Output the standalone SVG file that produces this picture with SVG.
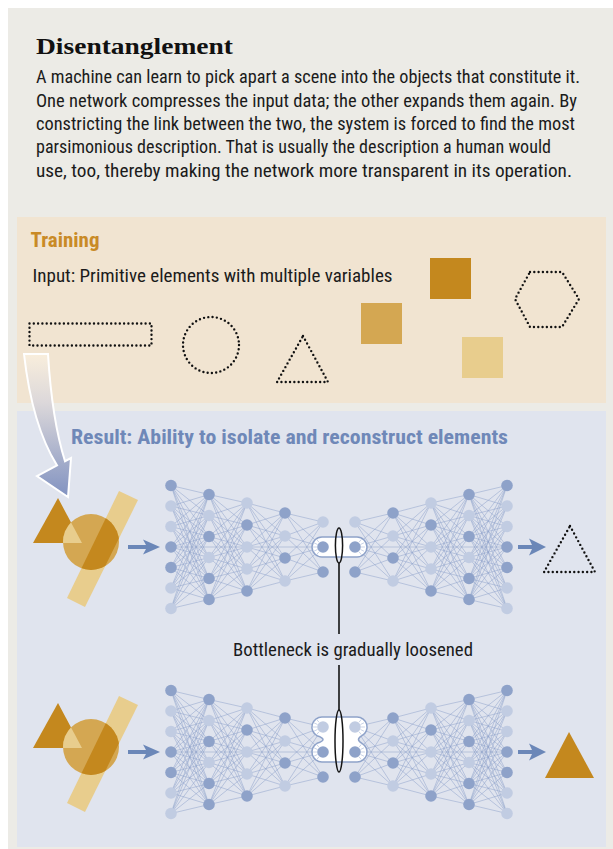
<svg xmlns="http://www.w3.org/2000/svg" xmlns:xlink="http://www.w3.org/1999/xlink" width="613" height="849" viewBox="0 0 613 849">
  <style>
    .body { font-family: "Liberation Sans Narrow", "Roboto Condensed", "Liberation Sans", Arial, sans-serif; font-size: 17.5px; fill: #1b1b1b; }
    .head { font-family: "Liberation Sans Narrow", "Roboto Condensed", "Liberation Sans", Arial, sans-serif; font-size: 19.5px; font-weight: bold; }
    .dotted { fill: none; stroke: #111; stroke-width: 2.4; stroke-linecap: round; stroke-dasharray: 0 4.3; }
    .link { fill: none; stroke: #8FA3CB; stroke-width: 0.95; stroke-opacity: 0.55; stroke-linejoin: round; }
    .d { fill: #8EA2C9; }
    .l { fill: #C1CCE2; }
    .pill { fill: #FFFFFF; stroke: #8EA2C9; stroke-width: 1.5; }
    .ray { stroke: #C9D3E7; stroke-width: 1; stroke-linecap: round; }
    .ring { fill: none; stroke: #141414; stroke-width: 1.5; }
    .arrow { fill: #6B87B8; }
    .gDark { fill: #C4881E; }
    .gMid { fill: #D4A752; }
    .gLight { fill: #E8CD8D; }
  </style>
  <defs>
    <linearGradient id="bigArrowFill" gradientUnits="userSpaceOnUse" x1="0" y1="354" x2="0" y2="492">
      <stop offset="0" stop-color="#F9EEDC"/>
      <stop offset="0.35" stop-color="#DCD8DA"/>
      <stop offset="1" stop-color="#8696C2"/>
    </linearGradient>
    <clipPath id="discClip">
      <circle cx="91" cy="542" r="28"/>
    </clipPath>

    <!-- overlapping primitives: bar, triangle and disc -->
    <g id="scene">
      <polygon class="gLight" points="119,491 138,500 85,607 67,598"/>
      <polygon class="gDark" points="58,498 33,543 82,543"/>
      <circle class="gMid" cx="91" cy="542" r="28"/>
      <polygon class="gDark" points="119,491 138,500 85,607 67,598" clip-path="url(#discClip)"/>
      <polygon class="gLight" points="58,498 33,543 82,543" clip-path="url(#discClip)"/>
    </g>

    <!-- encoder half: fully connected layers -->
    <g id="halfLinks" class="link">
      <path d="M209 494.5L171 485.5L209 515.5M209 536.5L171 485.5L209 557.5M209 578.5L171 485.5L209 599.5
               M209 494.5L171 506L209 515.5M209 536.5L171 506L209 557.5M209 578.5L171 506L209 599.5
               M209 494.5L171 526.5L209 515.5M209 536.5L171 526.5L209 557.5M209 578.5L171 526.5L209 599.5
               M209 494.5L171 547L209 515.5M209 536.5L171 547L209 557.5M209 578.5L171 547L209 599.5
               M209 494.5L171 567.5L209 515.5M209 536.5L171 567.5L209 557.5M209 578.5L171 567.5L209 599.5
               M209 494.5L171 588L209 515.5M209 536.5L171 588L209 557.5M209 578.5L171 588L209 599.5
               M209 494.5L171 608.5L209 515.5M209 536.5L171 608.5L209 557.5M209 578.5L171 608.5L209 599.5"/>
      <path d="M247 503L209 494.5L247 525M247 547L209 494.5L247 569M209 494.5L247 591
               M247 503L209 515.5L247 525M247 547L209 515.5L247 569M209 515.5L247 591
               M247 503L209 536.5L247 525M247 547L209 536.5L247 569M209 536.5L247 591
               M247 503L209 557.5L247 525M247 547L209 557.5L247 569M209 557.5L247 591
               M247 503L209 578.5L247 525M247 547L209 578.5L247 569M209 578.5L247 591
               M247 503L209 599.5L247 525M247 547L209 599.5L247 569M209 599.5L247 591"/>
      <path d="M285 513L247 503L285 536M285 558L247 503L285 581
               M285 513L247 525L285 536M285 558L247 525L285 581
               M285 513L247 547L285 536M285 558L247 547L285 581
               M285 513L247 569L285 536M285 558L247 569L285 581
               M285 513L247 591L285 536M285 558L247 591L285 581"/>
      <path d="M323 522L285 513L323 547M285 513L323 572
               M323 522L285 536L323 547M285 536L323 572
               M323 522L285 558L323 547M285 558L323 572
               M323 522L285 581L323 547M285 581L323 572"/>
      <path d="M171 547H339"/>
    </g>

    <g id="halfNodes">
      <circle class="d" cx="171" cy="485.5" r="5.8"/>
      <circle class="l" cx="171" cy="506" r="5.8"/>
      <circle class="l" cx="171" cy="526.5" r="5.8"/>
      <circle class="d" cx="171" cy="547" r="5.8"/>
      <circle class="d" cx="171" cy="567.5" r="5.8"/>
      <circle class="l" cx="171" cy="588" r="5.8"/>
      <circle class="l" cx="171" cy="608.5" r="5.8"/>

      <circle class="d" cx="209" cy="494.5" r="5.8"/>
      <circle class="l" cx="209" cy="515.5" r="5.8"/>
      <circle class="d" cx="209" cy="536.5" r="5.8"/>
      <circle class="l" cx="209" cy="557.5" r="5.8"/>
      <circle class="d" cx="209" cy="578.5" r="5.8"/>
      <circle class="d" cx="209" cy="599.5" r="5.8"/>

      <circle class="l" cx="247" cy="503" r="5.8"/>
      <circle class="d" cx="247" cy="525" r="5.8"/>
      <circle class="l" cx="247" cy="547" r="5.8"/>
      <circle class="l" cx="247" cy="569" r="5.8"/>
      <circle class="d" cx="247" cy="591" r="5.8"/>

      <circle class="d" cx="285" cy="513" r="5.8"/>
      <circle class="l" cx="285" cy="536" r="5.8"/>
      <circle class="d" cx="285" cy="558" r="5.8"/>
      <circle class="l" cx="285" cy="581" r="5.8"/>

      <circle class="l" cx="323" cy="522" r="5.8"/>
      <circle class="d" cx="323" cy="547" r="5.8"/>
      <circle class="d" cx="323" cy="572" r="5.8"/>
    </g>

    <!-- short rays inside the bottleneck capsule -->
    <g id="rays" class="ray">
      <path d="M316.5 547H313.5M317.1 549.7L314.4 551M317.1 544.3L314.4 543M318.8 552L316.9 554.3M318.8 542L316.9 539.7"/>
      <path d="M361.5 547H364.5M360.9 549.7L363.6 551M360.9 544.3L363.6 543M359.2 552L361.1 554.3M359.2 542L361.1 539.7"/>
    </g>
  </defs>

  <!-- page and panels -->
  <rect x="0" y="0" width="613" height="849" fill="#FFFFFF"/>
  <rect x="8" y="8" width="605" height="841" fill="#ECEBE6"/>
  <rect id="training-panel" x="17" y="217" width="589" height="186" fill="#F1E4D1"/>
  <rect id="result-panel" x="17" y="411" width="589" height="436" fill="#E0E4EE"/>

  <!-- header -->
  <g id="header">
    <text x="36" y="54" font-family="'Liberation Serif', 'Times New Roman', serif" font-size="23" font-weight="bold" fill="#111" textLength="197" lengthAdjust="spacingAndGlyphs">Disentanglement</text>
    <text class="body" x="36" y="83.3" textLength="544" lengthAdjust="spacingAndGlyphs">A machine can learn to pick apart a scene into the objects that constitute it.</text>
    <text class="body" x="36" y="106.7" textLength="541" lengthAdjust="spacingAndGlyphs">One network compresses the input data; the other expands them again. By</text>
    <text class="body" x="36" y="130" textLength="539" lengthAdjust="spacingAndGlyphs">constricting the link between the two, the system is forced to find the most</text>
    <text class="body" x="36" y="153.4" textLength="515" lengthAdjust="spacingAndGlyphs">parsimonious description. That is usually the description a human would</text>
    <text class="body" x="36" y="176.7" textLength="536" lengthAdjust="spacingAndGlyphs">use, too, thereby making the network more transparent in its operation.</text>
  </g>

  <!-- training inputs -->
  <g id="training">
    <text class="head" x="30.5" y="247" fill="#C98A26" textLength="69" lengthAdjust="spacingAndGlyphs">Training</text>
    <text class="body" x="32.5" y="282" textLength="360" lengthAdjust="spacingAndGlyphs">Input: Primitive elements with multiple variables</text>
    <rect id="in-rect" class="dotted" x="29.5" y="323.5" width="122" height="22"/>
    <circle id="in-circle" class="dotted" cx="211" cy="345" r="28"/>
    <polygon id="in-triangle" class="dotted" points="303,336 328,382 277,382"/>
    <rect id="in-square-dark" class="gDark" x="430" y="258" width="41" height="41"/>
    <rect id="in-square-mid" class="gMid" x="361" y="303" width="41" height="41"/>
    <rect id="in-square-light" class="gLight" x="462" y="337" width="41" height="41"/>
    <polygon id="in-hexagon" class="dotted" points="530,272 562,272 579,299 562,327 530,327 515,299"/>
  </g>

  <!-- curved arrow from training into result -->
  <path id="transfer-arrow" d="M24,354 Q32,425 57,465.4 L37,476 L68,497 L71,458 L65,461.2 Q52,420 48,354 Z" fill="url(#bigArrowFill)" stroke="#FFFFFF" stroke-width="2"/>

  <text id="result-title" class="head" x="71" y="444" fill="#6F88B8" textLength="437" lengthAdjust="spacingAndGlyphs">Result: Ability to isolate and reconstruct elements</text>

  <!-- input scenes -->
  <g id="scene-top"><use xlink:href="#scene" href="#scene"/></g>
  <g id="scene-bottom"><use xlink:href="#scene" href="#scene" transform="translate(0,205)"/></g>

  <!-- connectors: network links and arrows -->
  <g id="connectors">
    <use xlink:href="#halfLinks" href="#halfLinks"/>
    <use xlink:href="#halfLinks" href="#halfLinks" transform="matrix(-1 0 0 1 678 0)"/>
    <use xlink:href="#halfLinks" href="#halfLinks" transform="translate(0,205)"/>
    <use xlink:href="#halfLinks" href="#halfLinks" transform="matrix(-1 0 0 1 678 205)"/>
    <path class="arrow" d="M128,545 H146 L143,539.5 L160,547 L143,554.5 L146,549 H128 Z"/>
    <path class="arrow" d="M518,545 H532 L529,538.5 L546,547 L529,555.5 L532,549 H518 Z"/>
    <path class="arrow" d="M128,750 H146 L143,744.5 L160,752 L143,759.5 L146,754 H128 Z"/>
    <path class="arrow" d="M518,750 H532 L529,743.5 L546,752 L529,760.5 L532,754 H518 Z"/>
  </g>

  <!-- bottleneck capsules -->
  <rect id="bottleneck-top" class="pill" x="312" y="537" width="55" height="20" rx="10"/>
  <path id="bottleneck-bottom" class="pill" d="M322,717 H357 A10,10 0 0 1 362,735.7 Q355,739.5 362,743.3 A10,10 0 0 1 357,762 H322 A10,10 0 0 1 317,743.3 Q329,739.5 317,735.7 A10,10 0 0 1 322,717 Z"/>
  <use xlink:href="#rays" href="#rays"/>
  <use xlink:href="#rays" href="#rays" transform="translate(0,180)"/>
  <use xlink:href="#rays" href="#rays" transform="translate(0,205)"/>

  <!-- network nodes -->
  <g id="network-top">
    <use xlink:href="#halfNodes" href="#halfNodes"/>
    <use xlink:href="#halfNodes" href="#halfNodes" transform="matrix(-1 0 0 1 678 0)"/>
  </g>
  <g id="network-bottom">
    <use xlink:href="#halfNodes" href="#halfNodes" transform="translate(0,205)"/>
    <use xlink:href="#halfNodes" href="#halfNodes" transform="matrix(-1 0 0 1 678 205)"/>
  </g>

  <!-- string loop that tightens the bottleneck -->
  <g id="bottleneck-string">
    <ellipse class="ring" cx="339" cy="545.5" rx="3.6" ry="17.5"/>
    <ellipse class="ring" cx="339" cy="741" rx="4" ry="31"/>
    <path d="M339,563 V634 M339,665 V710" stroke="#141414" stroke-width="1.6" fill="none"/>
    <text class="body" x="233" y="655.5" textLength="240" lengthAdjust="spacingAndGlyphs">Bottleneck is gradually loosened</text>
  </g>

  <!-- outputs -->
  <polygon id="out-triangle-dotted" class="dotted" points="570,526 595,572 544,572"/>
  <polygon id="out-triangle" class="gDark" points="569,732 594,778 545,778"/>
</svg>
